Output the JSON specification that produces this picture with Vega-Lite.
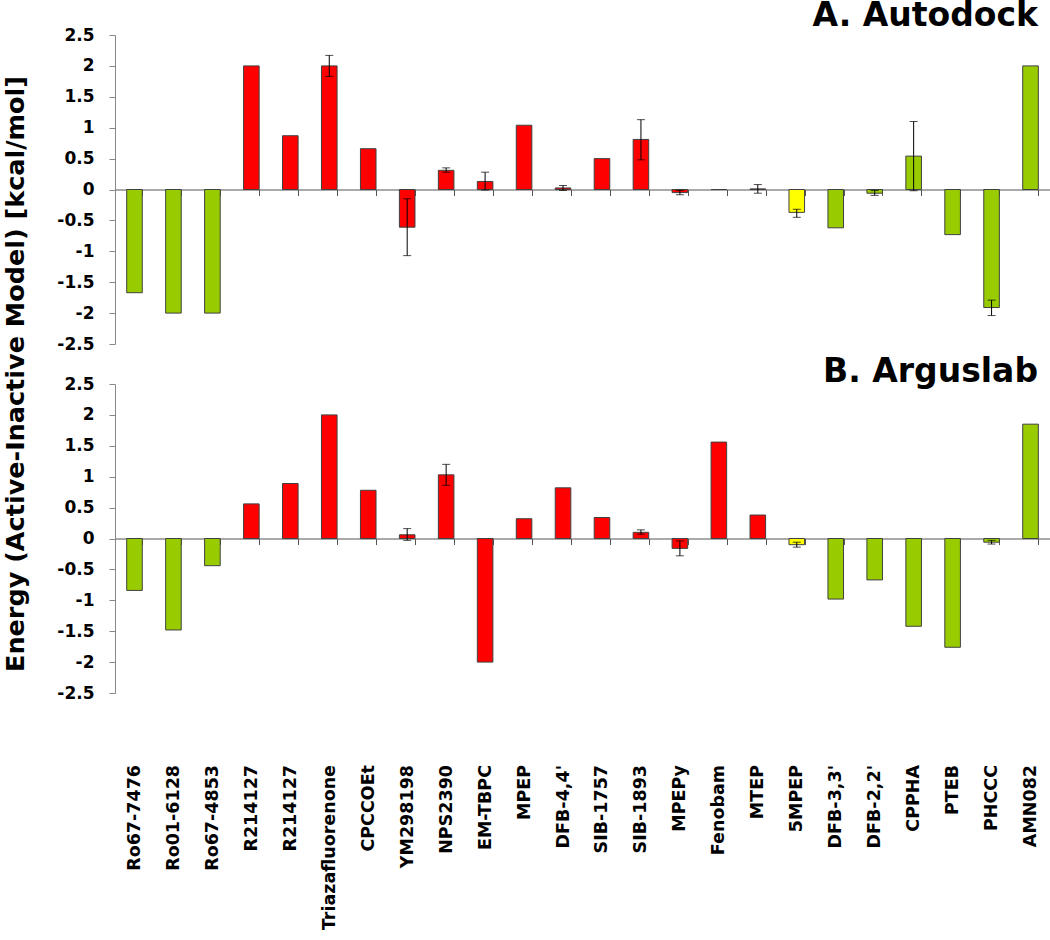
{
  "$schema": "https://vega.github.io/schema/vega-lite/v6.json",
  "background": "white",
  "padding": {"left": 3, "top": 0, "right": 0, "bottom": 0},
  "bounds": "flush",
  "spacing": 40,
  "config": {
    "view": {"stroke": null},
    "axis": {"grid": false, "labelColor": "black", "titleColor": "black"}
  },
  "data": {
    "values": [
      {"panel": "A", "key": "Ro67-7476", "cls": "PAM", "value": -1.67},
      {"panel": "A", "key": "Ro01-6128", "cls": "PAM", "value": -2.0},
      {"panel": "A", "key": "Ro67-4853", "cls": "PAM", "value": -2.0},
      {"panel": "A", "key": "R214127", "cls": "NAM", "value": 2.0},
      {"panel": "A", "key": "R214127#2", "cls": "NAM", "value": 0.87},
      {"panel": "A", "key": "Triazafluorenone", "cls": "NAM", "value": 2.0, "lo": 1.83, "hi": 2.17},
      {"panel": "A", "key": "CPCCOEt", "cls": "NAM", "value": 0.66},
      {"panel": "A", "key": "YM298198", "cls": "NAM", "value": -0.61, "lo": -1.07, "hi": -0.15},
      {"panel": "A", "key": "NPS2390", "cls": "NAM", "value": 0.31, "lo": 0.28, "hi": 0.35},
      {"panel": "A", "key": "EM-TBPC", "cls": "NAM", "value": 0.13, "lo": -0.01, "hi": 0.28},
      {"panel": "A", "key": "MPEP", "cls": "NAM", "value": 1.04},
      {"panel": "A", "key": "DFB-4,4'", "cls": "NAM", "value": 0.025, "lo": -0.015, "hi": 0.065},
      {"panel": "A", "key": "SIB-1757", "cls": "NAM", "value": 0.5},
      {"panel": "A", "key": "SIB-1893", "cls": "NAM", "value": 0.81, "lo": 0.48, "hi": 1.13},
      {"panel": "A", "key": "MPEPy", "cls": "NAM", "value": -0.05, "lo": -0.085, "hi": -0.015},
      {"panel": "A", "key": "Fenobam", "cls": "NAM", "value": 0.0},
      {"panel": "A", "key": "MTEP", "cls": "NAM", "value": 0.01, "lo": -0.06, "hi": 0.08},
      {"panel": "A", "key": "5MPEP", "cls": "neutral", "value": -0.37, "lo": -0.45, "hi": -0.32},
      {"panel": "A", "key": "DFB-3,3'", "cls": "PAM", "value": -0.62},
      {"panel": "A", "key": "DFB-2,2'", "cls": "PAM", "value": -0.06, "lo": -0.095, "hi": -0.015},
      {"panel": "A", "key": "CPPHA", "cls": "PAM", "value": 0.54, "lo": -0.02, "hi": 1.1},
      {"panel": "A", "key": "PTEB", "cls": "PAM", "value": -0.73},
      {"panel": "A", "key": "PHCCC", "cls": "PAM", "value": -1.91, "lo": -2.04, "hi": -1.79},
      {"panel": "A", "key": "AMN082", "cls": "PAM", "value": 2.0},
      {"panel": "B", "key": "Ro67-7476", "cls": "PAM", "value": -0.84},
      {"panel": "B", "key": "Ro01-6128", "cls": "PAM", "value": -1.48},
      {"panel": "B", "key": "Ro67-4853", "cls": "PAM", "value": -0.44},
      {"panel": "B", "key": "R214127", "cls": "NAM", "value": 0.56},
      {"panel": "B", "key": "R214127#2", "cls": "NAM", "value": 0.89},
      {"panel": "B", "key": "Triazafluorenone", "cls": "NAM", "value": 2.0},
      {"panel": "B", "key": "CPCCOEt", "cls": "NAM", "value": 0.78},
      {"panel": "B", "key": "YM298198", "cls": "NAM", "value": 0.06, "lo": -0.03, "hi": 0.16},
      {"panel": "B", "key": "NPS2390", "cls": "NAM", "value": 1.03, "lo": 0.86, "hi": 1.2},
      {"panel": "B", "key": "EM-TBPC", "cls": "NAM", "value": -2.0},
      {"panel": "B", "key": "MPEP", "cls": "NAM", "value": 0.32},
      {"panel": "B", "key": "DFB-4,4'", "cls": "NAM", "value": 0.82},
      {"panel": "B", "key": "SIB-1757", "cls": "NAM", "value": 0.34},
      {"panel": "B", "key": "SIB-1893", "cls": "NAM", "value": 0.1, "lo": 0.07, "hi": 0.14},
      {"panel": "B", "key": "MPEPy", "cls": "NAM", "value": -0.16, "lo": -0.28, "hi": -0.04},
      {"panel": "B", "key": "Fenobam", "cls": "NAM", "value": 1.56},
      {"panel": "B", "key": "MTEP", "cls": "NAM", "value": 0.38},
      {"panel": "B", "key": "5MPEP", "cls": "neutral", "value": -0.1, "lo": -0.14, "hi": -0.06},
      {"panel": "B", "key": "DFB-3,3'", "cls": "PAM", "value": -0.98},
      {"panel": "B", "key": "DFB-2,2'", "cls": "PAM", "value": -0.67},
      {"panel": "B", "key": "CPPHA", "cls": "PAM", "value": -1.42},
      {"panel": "B", "key": "PTEB", "cls": "PAM", "value": -1.76},
      {"panel": "B", "key": "PHCCC", "cls": "PAM", "value": -0.06, "lo": -0.09, "hi": -0.03},
      {"panel": "B", "key": "AMN082", "cls": "PAM", "value": 1.85}
    ]
  },
  "vconcat": [
    {
      "width": 935,
      "height": 309,
      "title": {"text": "A. Autodock", "anchor": "end", "font": "DejaVu Sans", "fontSize": 33, "fontWeight": "bold", "color": "black", "baseline": "alphabetic", "offset": 7, "dx": -12, "dy": 40},
      "transform": [{"filter": "datum.panel == 'A'"}],
      "encoding": {
        "x": {
          "field": "key", "type": "nominal", "sort": null,
          "scale": {"paddingInner": 0.6, "paddingOuter": 0.3},
          "axis": {"labels": false, "title": null, "offset": -154.5, "domainColor": "#555555", "tickColor": "#555555", "tickSize": 6, "tickBand": "extent"}
        },
        "y": {
          "field": "value", "type": "quantitative",
          "scale": {"domain": [-2.5, 2.5], "nice": false, "zero": false},
          "axis": {
            "values": [-2.5, -2, -1.5, -1, -0.5, 0, 0.5, 1, 1.5, 2, 2.5],
            "labelExpr": "'' + datum.value", "labelOverlap": false,
            "labelFont": "DejaVu Sans", "labelFontSize": 17, "labelFontWeight": "bold", "labelPadding": 15,
            "tickSize": 6, "domainColor": "#888888", "tickColor": "#888888",
            "title": "Energy (Active-Inactive Model) [kcal/mol]",
            "titleFont": "DejaVu Sans", "titleFontSize": 25.5, "titleFontWeight": "bold",
            "titleAngle": -90, "titleAlign": "center", "titleBaseline": "alphabetic",
            "titleX": -92, "titleY": 338.5
          }
        }
      },
      "layer": [
        {
          "mark": {"type": "bar", "stroke": "#404040", "strokeWidth": 1},
          "encoding": {
            "color": {"field": "cls", "type": "nominal", "scale": {"domain": ["NAM", "PAM", "neutral"], "range": ["#FF0000", "#99CC00", "#FFFF00"]}, "legend": null}
          }
        },
        {
          "transform": [{"filter": "isValid(datum.lo)"}],
          "mark": {"type": "rule", "color": "black", "strokeWidth": 1},
          "encoding": {"y": {"field": "lo", "type": "quantitative"}, "y2": {"field": "hi"}}
        },
        {
          "transform": [{"filter": "isValid(datum.lo)"}],
          "mark": {"type": "tick", "color": "black", "size": 8, "thickness": 1},
          "encoding": {"y": {"field": "lo", "type": "quantitative"}}
        },
        {
          "transform": [{"filter": "isValid(datum.lo)"}],
          "mark": {"type": "tick", "color": "black", "size": 8, "thickness": 1},
          "encoding": {"y": {"field": "hi", "type": "quantitative"}}
        }
      ]
    },
    {
      "width": 935,
      "height": 309,
      "title": {"text": "B. Arguslab", "anchor": "end", "font": "DejaVu Sans", "fontSize": 33, "fontWeight": "bold", "color": "black", "baseline": "alphabetic", "offset": 0, "dx": -12, "dy": 40},
      "transform": [{"filter": "datum.panel == 'B'"}],
      "encoding": {
        "x": {
          "field": "key", "type": "nominal", "sort": null,
          "scale": {"paddingInner": 0.6, "paddingOuter": 0.3},
          "axis": {"title": null, "offset": -154.5, "domainColor": "#555555", "tickColor": "#555555", "tickSize": 6, "tickBand": "extent",
            "labelAngle": -90, "labelPadding": 220, "labelFont": "DejaVu Sans", "labelFontSize": 17.5, "labelFontWeight": "bold",
            "labelExpr": "datum.value ? split(datum.value, '#')[0] : ''", "labelOverlap": false}
        },
        "y": {
          "field": "value", "type": "quantitative",
          "scale": {"domain": [-2.5, 2.5], "nice": false, "zero": false},
          "axis": {
            "values": [-2.5, -2, -1.5, -1, -0.5, 0, 0.5, 1, 1.5, 2, 2.5],
            "labelExpr": "'' + datum.value", "labelOverlap": false,
            "labelFont": "DejaVu Sans", "labelFontSize": 17, "labelFontWeight": "bold", "labelPadding": 15,
            "tickSize": 6, "domainColor": "#888888", "tickColor": "#888888",
            "title": null
          }
        }
      },
      "layer": [
        {
          "mark": {"type": "bar", "stroke": "#404040", "strokeWidth": 1},
          "encoding": {
            "color": {"field": "cls", "type": "nominal", "scale": {"domain": ["NAM", "PAM", "neutral"], "range": ["#FF0000", "#99CC00", "#FFFF00"]}, "legend": null}
          }
        },
        {
          "transform": [{"filter": "isValid(datum.lo)"}],
          "mark": {"type": "rule", "color": "black", "strokeWidth": 1},
          "encoding": {"y": {"field": "lo", "type": "quantitative"}, "y2": {"field": "hi"}}
        },
        {
          "transform": [{"filter": "isValid(datum.lo)"}],
          "mark": {"type": "tick", "color": "black", "size": 8, "thickness": 1},
          "encoding": {"y": {"field": "lo", "type": "quantitative"}}
        },
        {
          "transform": [{"filter": "isValid(datum.lo)"}],
          "mark": {"type": "tick", "color": "black", "size": 8, "thickness": 1},
          "encoding": {"y": {"field": "hi", "type": "quantitative"}}
        }
      ]
    }
  ]
}
